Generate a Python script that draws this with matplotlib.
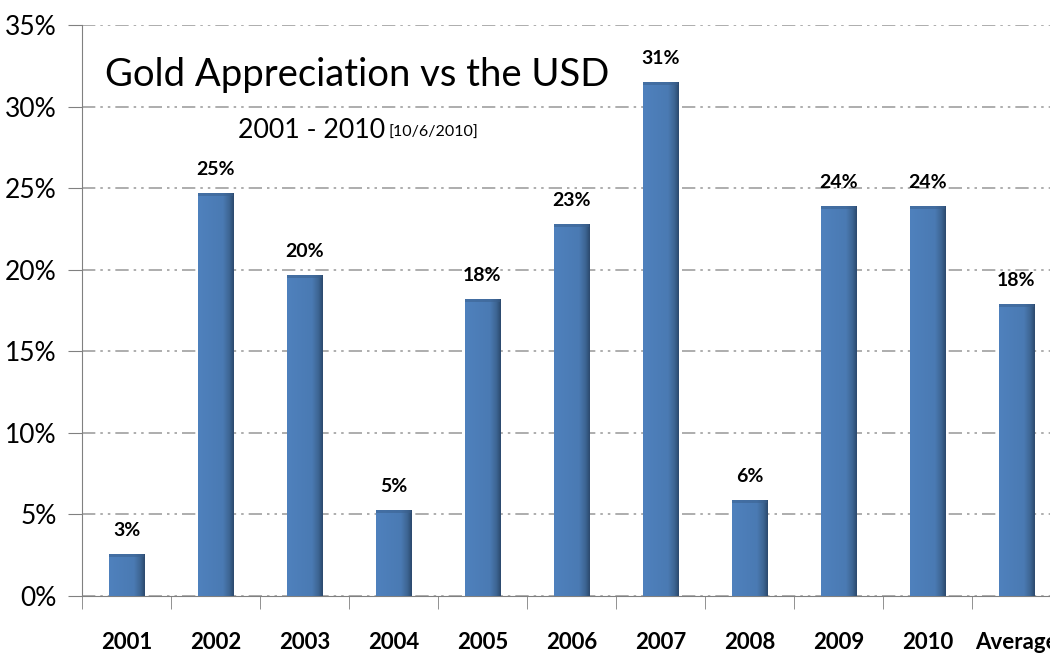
import numpy as np
import matplotlib.pyplot as plt
from matplotlib.colors import LinearSegmentedColormap

plt.rcParams['font.family'] = ['Lato', 'DejaVu Sans']

categories = ['2001', '2002', '2003', '2004', '2005', '2006',
              '2007', '2008', '2009', '2010', 'Average']
values = [2.6, 24.7, 19.7, 5.3, 18.2, 22.8, 31.5, 5.9, 23.9, 23.9, 17.9]
bar_labels = ['3%', '25%', '20%', '5%', '18%', '23%',
              '31%', '6%', '24%', '24%', '18%']
yticks = [0, 5, 10, 15, 20, 25, 30, 35]

fig = plt.figure(figsize=(10.5, 6.55), dpi=100)
# axes extend a little beyond the right edge, as in the original
ax = fig.add_axes([82/1050, 1 - 596/655, 979/1050, 571/655])

x = np.arange(len(categories))
width = 0.4
bars = ax.bar(x, values, width=width, color='#4F81BD', zorder=3)

# horizontal shading on each bar: flat blue, darker towards the right edge
cmap = LinearSegmentedColormap.from_list(
    'shade', [(0.0, '#4F81BD'), (0.7, '#4A7AB3'), (0.88, '#3D6593'), (1.0, '#2C4A6E')])
grad = np.linspace(0, 1, 100).reshape(1, -1)
for b in bars:
    x0, y0 = b.get_x(), b.get_y()
    w, h = b.get_width(), b.get_height()
    im = ax.imshow(grad, cmap=cmap, extent=[x0, x0 + w, y0, y0 + h],
                   aspect='auto', zorder=4)
    im.set_clip_path(b)
    # darker strip along the top
    ax.fill_between([x0, x0 + w], y0 + h - 0.2, y0 + h, color='#3A5F8C',
                    alpha=0.5, zorder=5, linewidth=0)

for xi, v, lab in zip(x, values, bar_labels):
    ax.text(xi, v + 0.9, lab, ha='center', va='bottom', fontsize=14,
            fontweight='bold', color='black', zorder=6)

ax.set_xlim(-0.5, len(categories) - 0.5)
ax.set_ylim(0, 35)
ax.set_yticks(yticks)
ax.set_yticklabels(['{}%'.format(t) for t in yticks], fontsize=19)
ax.set_xticks(x)
ax.set_xticklabels(categories, fontsize=16, fontweight='bold')
ax.set_xticks(np.arange(-0.5, len(categories), 1), minor=True)
ax.tick_params(axis='x', which='major', length=0, pad=26)
ax.tick_params(axis='x', which='minor', length=9, color='#808080', direction='out')
ax.tick_params(axis='y', length=10, color='#808080', direction='out', pad=8)

ax.grid(axis='y', color='#A0A0A0', linestyle=(0, (8, 3, 1.5, 3, 1.5, 3)),
        linewidth=1.2, zorder=0)
for s in ['top', 'right']:
    ax.spines[s].set_visible(False)
ax.spines['left'].set_color('#808080')
ax.spines['bottom'].set_color('#808080')

# title block, placed in figure pixels
fig.text(105/1050, 1 - 75/655, 'Gold Appreciation vs the USD', fontsize=27.5,
         ha='left', va='center')
fig.text(238/1050, 1 - 130/655, '2001 - 2010', fontsize=19.3, ha='left', va='center')
fig.text(389/1050, 1 - 133/655, '[10/6/2010]', fontsize=11.5, ha='left', va='center')

plt.savefig('out.png', dpi=100)
